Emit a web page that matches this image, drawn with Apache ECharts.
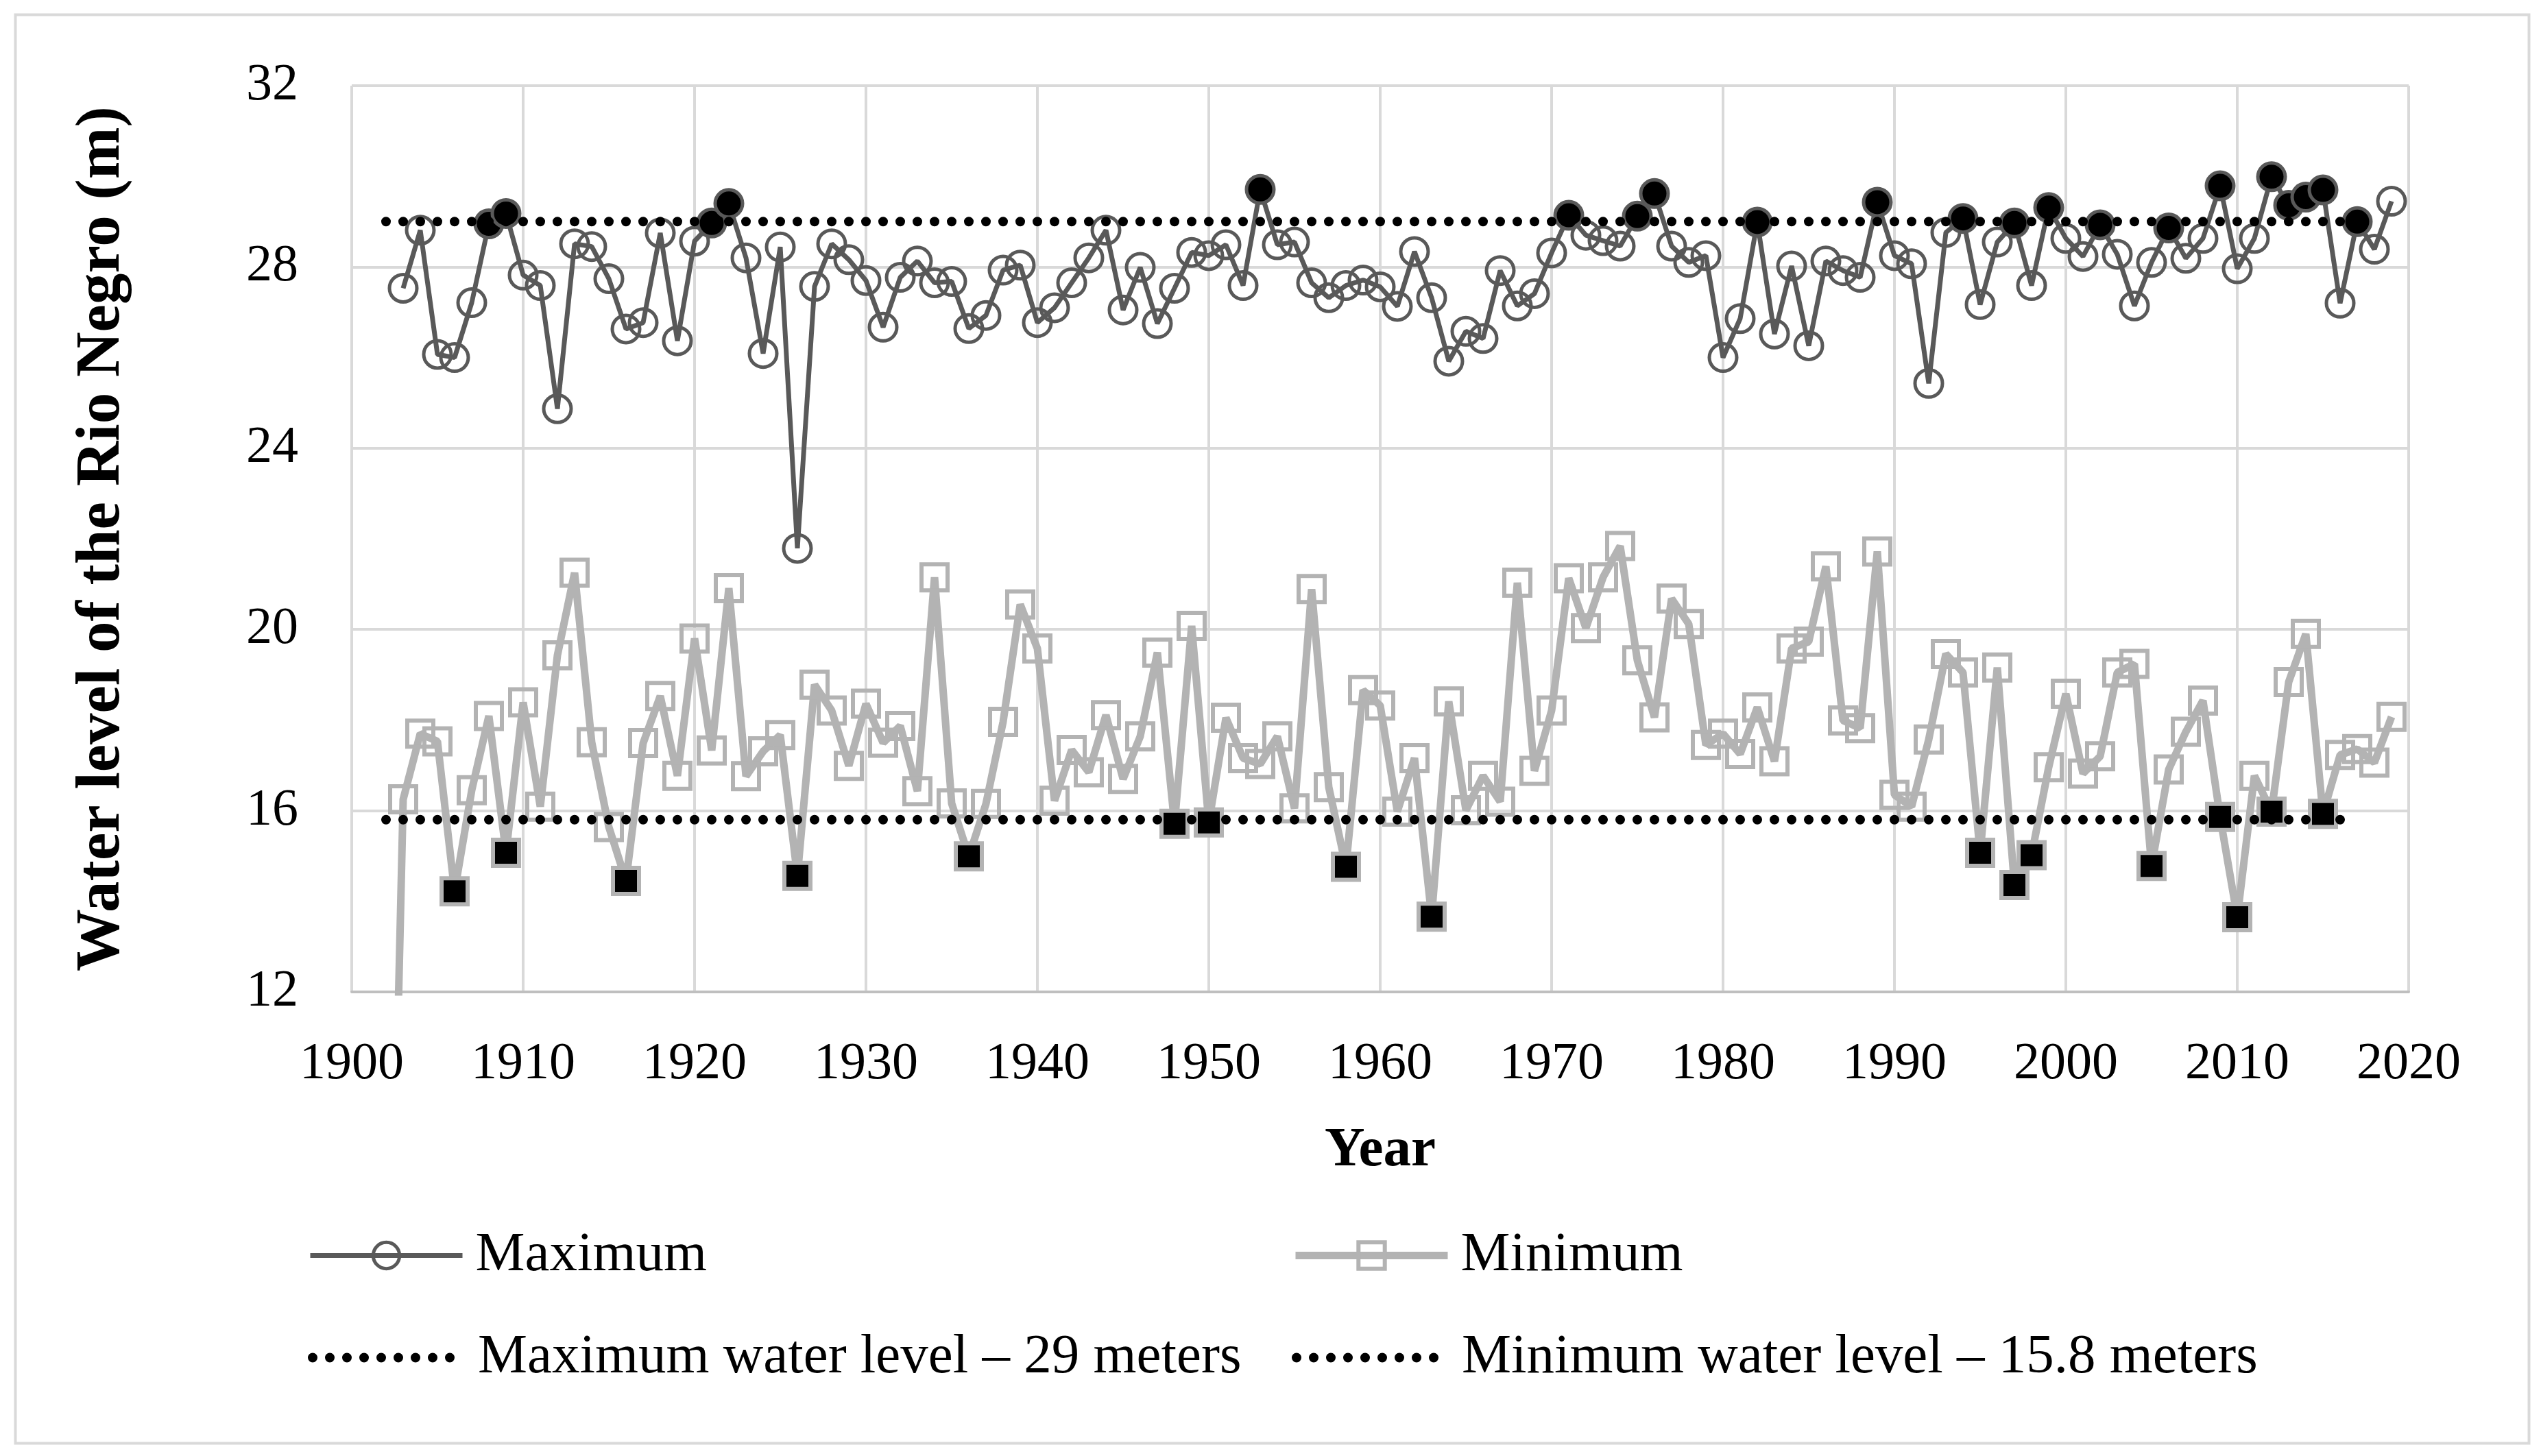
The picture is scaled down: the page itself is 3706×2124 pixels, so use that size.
<!DOCTYPE html>
<html>
<head>
<meta charset="utf-8">
<script src="https://cdn.jsdelivr.net/npm/echarts@6/dist/echarts.min.js"></script>
<style>
html,body{margin:0;padding:0;background:#fff;}
#chart{width:3706px;height:2124px;}
</style>
</head>
<body>
<div id="chart"></div>
<script>
// ---------- DATA ----------
function yearRange(a, b) { const r = []; for (let y = a; y <= b; y++) r.push(y); return r; }

const maxYears = yearRange(1903, 2019);
const maximumLevel = [
  27.53, 28.81, 26.07, 26.00, 27.21, 28.95, 29.18, 27.82, 27.59, 24.87,   // 1903-1912
  28.51, 28.45, 27.74, 26.63, 26.77, 28.75, 26.37, 28.57, 28.97, 29.40,   // 1913-1922
  28.20, 26.09, 28.44, 21.79, 27.57, 28.51, 28.16, 27.70, 26.67, 27.77,   // 1923-1932
  28.13, 27.65, 27.68, 26.64, 26.93, 27.93, 28.04, 26.77, 27.10, 27.65,   // 1933-1942
  28.20, 28.81, 27.05, 27.99, 26.75, 27.53, 28.32, 28.25, 28.49, 27.59,   // 1943-1952
  29.71, 28.49, 28.55, 27.65, 27.32, 27.59, 27.71, 27.56, 27.13, 28.34,   // 1953-1962
  27.32, 25.92, 26.58, 26.42, 27.92, 27.14, 27.41, 28.31, 29.14, 28.70,   // 1963-1972
  28.58, 28.46, 29.12, 29.62, 28.46, 28.10, 28.25, 26.00, 26.86, 28.99,   // 1973-1982
  26.52, 28.02, 26.26, 28.13, 27.92, 27.77, 29.43, 28.25, 28.07, 25.43,   // 1983-1992
  28.76, 29.07, 27.17, 28.55, 28.97, 27.59, 29.31, 28.63, 28.23, 28.93,   // 1993-2002
  28.28, 27.14, 28.10, 28.86, 28.19, 28.63, 29.79, 27.96, 28.63, 29.99,   // 2003-2012
  29.36, 29.54, 29.70, 27.20, 29.00, 28.39, 29.45                         // 2013-2019
];

const minYears = yearRange(1902, 2019);
const minimumLevel = [
  0,                                                                      // 1902
  16.25, 17.70, 17.53, 14.22, 16.45, 18.09, 15.07, 18.39, 16.09, 19.43,   // 1903-1912
  21.25, 17.51, 15.64, 14.45, 17.49, 18.53, 16.77, 19.80, 17.33, 20.91,   // 1913-1922
  16.76, 17.31, 17.67, 14.56, 18.78, 18.21, 16.99, 18.36, 17.50, 17.87,   // 1923-1932
  16.43, 21.15, 16.16, 14.99, 16.15, 17.96, 20.55, 19.58, 16.22, 17.34,   // 1933-1942
  16.85, 18.11, 16.70, 17.64, 19.49, 15.71, 20.08, 15.74, 18.05, 17.16,   // 1943-1952
  17.03, 17.64, 16.05, 20.89, 16.52, 14.76, 18.66, 18.32, 15.98, 17.16,   // 1953-1962
  13.66, 18.41, 16.01, 16.77, 16.20, 21.03, 16.88, 18.21, 21.13, 20.03,   // 1963-1972
  21.15, 21.84, 19.32, 18.06, 20.68, 20.12, 17.45, 17.70, 17.25, 18.28,   // 1973-1982
  17.09, 19.58, 19.73, 21.39, 17.99, 17.82, 21.72, 16.35, 16.09, 17.57,   // 1983-1992
  19.46, 19.05, 15.07, 19.16, 14.36, 15.02, 16.96, 18.58, 16.82, 17.20,   // 1993-2002
  19.05, 19.24, 14.78, 16.91, 17.74, 18.43, 15.86, 13.65, 16.77, 15.98,   // 2003-2012
  18.84, 19.90, 15.93, 17.23, 17.36, 17.06, 18.07                         // 2013-2019
];

// years highlighted with filled (black) markers
const floodYears = [1908, 1909, 1921, 1922, 1953, 1971, 1975, 1976, 1982, 1989, 1994,
                    1997, 1999, 2002, 2006, 2009, 2012, 2013, 2014, 2015, 2017];
const droughtYears = [1906, 1909, 1916, 1926, 1936, 1948, 1950, 1958, 1963, 1995, 1997,
                      1998, 2005, 2009, 2010, 2012, 2015];

const maxThreshold = 29;
const minThreshold = 15.8;
const thresholdYears = [1902, 2017];

const xTicks = { min: 1900, max: 2020, interval: 10 };
const yTicks = { min: 12, max: 32, interval: 4 };

const seriesNames = ['Maximum', 'Minimum', 'Maximum water level \u2013 29 meters', 'Minimum water level \u2013 15.8 meters'];

// ---------- CHART ----------
const FONT = 'Liberation Serif';
const chart = echarts.init(document.getElementById('chart'), null, { renderer: 'canvas' });

const maxData = maxYears.map((y, i) => {
  const d = { value: [y, maximumLevel[i]] };
  if (floodYears.includes(y)) d.itemStyle = { color: '#000000' };
  return d;
});
const minData = minYears.map((y, i) => {
  const d = { value: [y, minimumLevel[i]] };
  if (droughtYears.includes(y)) d.itemStyle = { color: '#000000' };
  return d;
});

const legendText = { fontFamily: FONT, fontSize: 81, color: '#000', padding: [0, 0, 0, 14] };

const option = {
  animation: false,
  backgroundColor: '#ffffff',
  textStyle: { fontFamily: FONT },
  grid: { left: 513, right: 193, top: 125, bottom: 677, containLabel: false },
  xAxis: {
    type: 'value',
    min: xTicks.min, max: xTicks.max, interval: xTicks.interval,
    name: 'Year', nameLocation: 'middle', nameGap: 192,
    nameTextStyle: { fontFamily: FONT, fontSize: 81, fontWeight: 'bold', color: '#000' },
    axisLine: { show: true, onZero: false, lineStyle: { color: '#bfbfbf', width: 4 } },
    axisTick: { show: false },
    axisLabel: { fontFamily: FONT, fontSize: 76, color: '#000', margin: 68, formatter: v => String(v) },
    splitLine: { show: true, lineStyle: { color: '#d9d9d9', width: 4 } }
  },
  yAxis: {
    type: 'value',
    min: yTicks.min, max: yTicks.max, interval: yTicks.interval,
    name: 'Water level of the Rio Negro (m)', nameLocation: 'middle', nameGap: 318, nameRotate: 90,
    nameTextStyle: { fontFamily: FONT, fontSize: 91, fontWeight: 'bold', color: '#000' },
    axisLine: { show: false },
    axisTick: { show: false },
    axisLabel: { fontFamily: FONT, fontSize: 76, color: '#000', margin: 78, formatter: v => String(v) },
    splitLine: { show: true, lineStyle: { color: '#d9d9d9', width: 4 } }
  },
  legend: [
    { data: [seriesNames[0]], left: 444, top: 1786, itemWidth: 222, itemHeight: 48,
      lineStyle: { width: 7 }, itemStyle: { borderWidth: 5 }, textStyle: legendText, selectedMode: false },
    { data: [seriesNames[1]], left: 1879, top: 1786, itemWidth: 222, itemHeight: 48,
      lineStyle: { width: 11 }, itemStyle: { borderWidth: 6 }, textStyle: legendText, selectedMode: false },
    { data: [seriesNames[2]], left: 444, top: 1935, itemWidth: 222, itemHeight: 48,
      lineStyle: { width: 14 }, itemStyle: { borderWidth: 0 }, textStyle: legendText, selectedMode: false },
    { data: [seriesNames[3]], left: 1879, top: 1935, itemWidth: 222, itemHeight: 48,
      lineStyle: { width: 14 }, itemStyle: { borderWidth: 0 }, textStyle: legendText, selectedMode: false }
  ],
  graphic: [{
    type: 'rect', left: 20, top: 19, silent: true,
    shape: { width: 3666, height: 2084 },
    style: { fill: 'none', stroke: '#d9d9d9', lineWidth: 4 }
  }],
  series: [
    {
      name: seriesNames[0], type: 'line', data: maxData, z: 2,
      symbol: 'circle', symbolSize: 40, showAllSymbol: true,
      lineStyle: { color: '#595959', width: 7 },
      itemStyle: { color: 'rgba(0,0,0,0)', borderColor: '#595959', borderWidth: 5 },
      emphasis: { disabled: true }
    },
    {
      name: seriesNames[1], type: 'line', data: minData, z: 2,
      symbol: 'rect', symbolSize: 38, showAllSymbol: true,
      lineStyle: { color: '#b3b3b3', width: 11 },
      itemStyle: { color: 'rgba(0,0,0,0)', borderColor: '#b3b3b3', borderWidth: 6 },
      emphasis: { disabled: true }
    },
    {
      name: seriesNames[2], type: 'line', z: 3, symbol: 'none',
      data: thresholdYears.map(y => [y, maxThreshold]),
      lineStyle: { color: '#000', width: 14, type: [0, 25], cap: 'round' },
      itemStyle: { color: 'rgba(0,0,0,0)' },
      emphasis: { disabled: true }
    },
    {
      name: seriesNames[3], type: 'line', z: 3, symbol: 'none',
      data: thresholdYears.map(y => [y, minThreshold]),
      lineStyle: { color: '#000', width: 14, type: [0, 25], cap: 'round' },
      itemStyle: { color: 'rgba(0,0,0,0)' },
      emphasis: { disabled: true }
    }
  ]
};
chart.setOption(option);
</script>
</body>
</html>
